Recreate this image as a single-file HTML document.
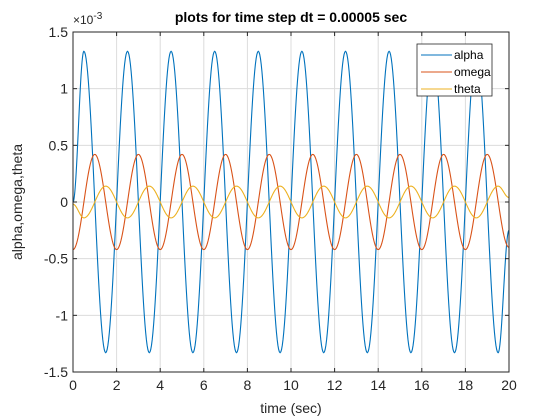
<!DOCTYPE html>
<html><head><meta charset="utf-8"><style>
body{margin:0;background:#fff;}
svg{display:block;font-family:"Liberation Sans",Arial,sans-serif;}
</style></head><body>
<svg id="chart" width="560" height="420">
<rect width="560" height="420" fill="#fff"/>
<rect x="73" y="32" width="436" height="340" fill="#fff"/>
<g id="grid"></g>
<g id="series"></g>
<rect x="73" y="32" width="436" height="340" fill="none" stroke="#262626" stroke-width="1"/>
<g id="ticks"></g>
<text x="291" y="22" text-anchor="middle" font-size="14" font-weight="bold" fill="#000">plots for time step dt = 0.00005 sec</text>
<text x="73" y="24" font-size="12" fill="#262626">×10<tspan dy="-5" font-size="10">-3</tspan></text>
<text x="291" y="413" text-anchor="middle" font-size="14" fill="#262626">time (sec)</text>
<text transform="translate(22,202) rotate(-90)" text-anchor="middle" font-size="14" fill="#262626">alpha,omega,theta</text>
<g>
<rect x="417" y="44" width="75" height="52" fill="#fff" stroke="#262626" stroke-width="0.8"/>
<line x1="421" y1="55" x2="452" y2="55" stroke="#0072BD"/>
<text x="454" y="59" font-size="12" fill="#000">alpha</text>
<line x1="421" y1="72" x2="452" y2="72" stroke="#D95319"/>
<text x="454" y="76" font-size="12" fill="#000">omega</text>
<line x1="421" y1="89" x2="452" y2="89" stroke="#EDB120"/>
<text x="454" y="93" font-size="12" fill="#000">theta</text>
</g>
</svg>
<script>
const xTicks=[0,2,4,6,8,10,12,14,16,18,20];
const yTicks=[-1.5,-1,-0.5,0,0.5,1,1.5];
const yTickLabels=["-1.5","-1","-0.5","0","0.5","1","1.5"];
// extrema (time, value x1e-3)
const alphaT=[0,0.5,1.5,2.5,3.5,4.5,5.5,6.5,7.5,8.5,9.5,10.5,11.5,12.5,13.5,14.5,15.5,16.5,17.5,18.5,19.5,20];
const alphaV=[0,1.33,-1.33,1.33,-1.33,1.33,-1.33,1.33,-1.33,1.33,-1.33,1.33,-1.33,1.33,-1.33,1.33,-1.33,1.33,-1.33,1.33,-1.33,-0.25];
const omegaT=[0,1,2,3,4,5,6,7,8,9,10,11,12,13,14,15,16,17,18,19,20];
const omegaV=[-0.42,0.42,-0.42,0.42,-0.42,0.42,-0.42,0.42,-0.42,0.42,-0.42,0.42,-0.42,0.42,-0.42,0.42,-0.42,0.42,-0.42,0.42,-0.4];
const thetaT=[0,0.5,1.5,2.5,3.5,4.5,5.5,6.5,7.5,8.5,9.5,10.5,11.5,12.5,13.5,14.5,15.5,16.5,17.5,18.5,19.5,20];
const thetaV=[-0.02,-0.14,0.14,-0.14,0.14,-0.14,0.14,-0.14,0.14,-0.14,0.14,-0.14,0.14,-0.14,0.14,-0.14,0.14,-0.14,0.14,-0.14,0.14,0.04];

const X0=73,X1=509,Y0=372,Y1=32;
const xs=t=>X0+(t-0)/(20-0)*(X1-X0);
const ys=v=>Y0-(v+1.5)/3*(Y0-Y1);
const NS='http://www.w3.org/2000/svg';
const grid=document.getElementById('grid'),ticks=document.getElementById('ticks'),ser=document.getElementById('series');
function mk(tag,attrs,parent){const e=document.createElementNS(NS,tag);for(const k in attrs)e.setAttribute(k,attrs[k]);parent.appendChild(e);return e;}
xTicks.forEach((t,i)=>{
  const x=xs(t);
  if(i>0&&i<xTicks.length-1){const g=mk('line',{x1:x,x2:x,y1:Y1,y2:Y0,stroke:'#dcdcdc','stroke-width':1},grid);
  
  }
  const a=mk('line',{x1:x,x2:x,y1:Y0,y2:Y0-4,stroke:'#262626'},ticks);
  
  
  const b=mk('line',{x1:x,x2:x,y1:Y1,y2:Y1+4,stroke:'#262626'},ticks);
  
  
  const l=mk('text',{x:x,y:Y0+18,'text-anchor':'middle','font-size':14,fill:'#262626'},ticks);
  l.textContent=String(t);
  
  
});
yTicks.forEach((v,i)=>{
  const y=ys(v);
  if(i>0&&i<yTicks.length-1){const g=mk('line',{x1:X0,x2:X1,y1:y,y2:y,stroke:'#dcdcdc','stroke-width':1},grid);
  
  }
  const a=mk('line',{x1:X0,x2:X0+4,y1:y,y2:y,stroke:'#262626'},ticks);
  
  
  const b=mk('line',{x1:X1,x2:X1-4,y1:y,y2:y,stroke:'#262626'},ticks);
  
  
  const l=mk('text',{x:X0-5,y:y+5,'text-anchor':'end','font-size':14,fill:'#262626'},ticks);
  l.textContent=yTickLabels[i];
  
  
});
function curve(T,V,color,name){
  let d='';
  for(let i=0;i<T.length-1;i++){
    const n=30;
    for(let k=(i?1:0);k<=n;k++){
      const u=k/n,t=T[i]+(T[i+1]-T[i])*u,v=V[i]+(V[i+1]-V[i])*(1-Math.cos(Math.PI*u))/2;
      d+=(d?'L':'M')+xs(t).toFixed(2)+','+ys(v).toFixed(2);
    }
  }
  const p=mk('path',{d:d,fill:'none',stroke:color,'stroke-width':1.1},ser);
  
  
}
curve(alphaT,alphaV,'#0072BD','alpha-line');
curve(omegaT,omegaV,'#D95319','omega-line');
curve(thetaT,thetaV,'#EDB120','theta-line');
</script>
</body></html>
